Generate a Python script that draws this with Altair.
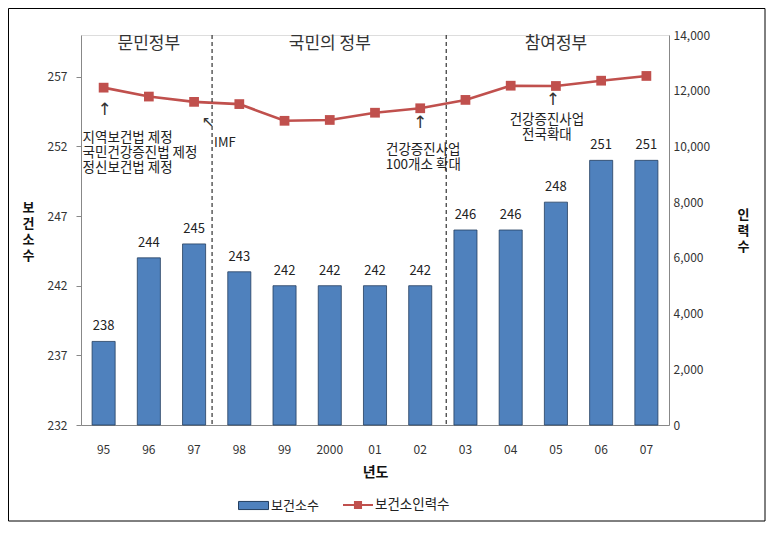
import altair as alt
import pandas as pd

years = ["95", "96", "97", "98", "99", "2000", "01", "02", "03", "04", "05", "06", "07"]
centers = [238, 244, 245, 243, 242, 242, 242, 242, 246, 246, 248, 251, 251]
staff = [12110, 11790, 11600, 11520, 10920, 10950, 11210, 11370, 11670, 12180, 12170, 12360, 12530]

periods = ["문민정부", "국민의 정부", "참여정부"]
period_years = ["96", "2000", "05"]
divider_years = ["97", "02"]

ann_years = ["95", "97", "02", "05"]
ann_texts = ["지역보건법 제정\n국민건강증진법 제정\n정신보건법 제정", "IMF",
             "건강증진사업\n100개소 확대", "건강증진사업\n전국확대"]
ann_arrows = ["↑", "↖", "↑", "↑"]

left_ticks = [232, 237, 242, 247, 252, 257]
right_ticks = [0, 2000, 4000, 6000, 8000, 10000, 12000, 14000]

S1 = "보건소수"
S2 = "보건소인력수"

FONT = "Noto Sans CJK KR"
ARROW_FONT = "DejaVu Sans"
W, H = 588, 390
BLUE = "#4F81BD"
RED = "#C0504D"

df = pd.DataFrame({"year": years, "centers": centers, "staff": staff, "s1": S1, "s2": S2})

xscale = alt.Scale(paddingInner=0.49, paddingOuter=0.245)
x_main = alt.X("year:N", sort=years, scale=xscale,
               axis=alt.Axis(title="년도", labelAngle=0, ticks=False, domainColor="#888",
                             labelPadding=19, titlePadding=10, labelFontSize=12,
                             labelColor="#333", titleFontSize=14, titleFontWeight="bold",
                             titleColor="#111"))
x_plain = alt.X("year:N", sort=years, scale=xscale)

y_left = alt.Y("centers:Q",
               scale=alt.Scale(domain=[232, 260], nice=False, zero=False),
               axis=alt.Axis(values=left_ticks, title=["보", "건", "소", "수"], titleAngle=0,
                             titleAlign="center", titleBaseline="middle", titleFontSize=13,
                             titleFontWeight="bold", titleColor="#111",
                             titleX=-53, titleY=H / 2 - 23,
                             titleLineHeight=16, grid=False, tickSize=5, tickColor="#888",
                             domainColor="#888", labelPadding=9, labelFontSize=12,
                             labelColor="#333"))
y_right = alt.Y("staff:Q",
                scale=alt.Scale(domain=[0, 14000], nice=False),
                axis=alt.Axis(orient="right", values=right_ticks, format=",d",
                              title=["인", "력", "수"], titleAngle=0, titleAlign="center",
                              titleBaseline="middle", titleFontSize=13, titleFontWeight="bold",
                              titleColor="#111", titleX=74, titleY=H / 2 - 16,
                              titleLineHeight=16,
                              grid=False, ticks=False, domainColor="#888", labelPadding=4,
                              labelFontSize=12, labelColor="#333"))

base = alt.Chart(df)

bars = base.mark_bar(stroke="#243f60", strokeWidth=0.8).encode(
    x=x_main,
    y=y_left,
    y2=alt.datum(232),
    fill=alt.Fill("s1:N", scale=alt.Scale(domain=[S1], range=[BLUE]),
                  legend=alt.Legend(title=None, orient="none", legendX=157, legendY=455,
                                    symbolType="M-1,-0.27H1V0.27H-1Z", symbolSize=900,
                                    symbolStrokeColor="#243f60", symbolStrokeWidth=1,
                                    labelFontSize=13, labelColor="#222", labelOffset=2)),
)
bar_labels = base.mark_text(dy=-15, fontSize=13, color="#222", baseline="middle").encode(
    x=x_plain, y=alt.Y("centers:Q"), text=alt.Text("centers:Q"))
left_group = alt.layer(bars, bar_labels)

line = base.mark_line(color=RED, strokeWidth=2.6).encode(x=x_plain, y=y_right)
points = base.mark_square(size=95, opacity=1, filled=True).encode(
    x=x_plain, y=y_right,
    color=alt.Color("s2:N", scale=alt.Scale(domain=[S2], range=[RED]),
                    legend=alt.Legend(title=None, orient="none", legendX=262, legendY=455,
                                      symbolType="M-1,-0.07H1V0.07H-1Z M-0.27,-0.27H0.27V0.27H-0.27Z",
                                      symbolSize=900, symbolStrokeWidth=0,
                                      labelFontSize=13.5, labelColor="#222", labelOffset=2)),
)
right_group = alt.layer(line, points)

div_df = pd.DataFrame({"year": divider_years})
rule1 = alt.Chart(div_df[div_df.year == "97"]).mark_rule(
    strokeDash=[4, 3], color="#333", strokeWidth=1.2, xOffset=18).encode(
    x=x_plain, y=alt.value(0), y2=alt.value(H))
rule2 = alt.Chart(div_df[div_df.year == "02"]).mark_rule(
    strokeDash=[4, 3], color="#333", strokeWidth=1.2, xOffset=26).encode(
    x=x_plain, y=alt.value(0), y2=alt.value(H))

period_df = pd.DataFrame({"year": period_years, "label": periods})
period_text = alt.Chart(period_df).mark_text(fontSize=17, color="#333", baseline="middle").encode(
    x=x_plain, y=alt.value(9), text="label:N")

ann_df = pd.DataFrame({"year": ann_years, "text": ann_texts, "arrow": ann_arrows})


def ann(i):
    return alt.Chart(ann_df.iloc[[i]])


arrow95 = ann(0).mark_text(font=ARROW_FONT, fontSize=17, color="#333", baseline="middle", dx=1).encode(
    x=x_plain, y=alt.value(75), text="arrow:N")
text95 = ann(0).mark_text(fontSize=13.5, color="#222", baseline="middle", align="left",
                          lineBreak="\n", lineHeight=15, dx=-21).encode(
    x=x_plain, y=alt.value(103), text="text:N")
arrow97 = ann(1).mark_text(font=ARROW_FONT, fontSize=15, color="#333", baseline="middle", dx=14).encode(
    x=x_plain, y=alt.value(87), text="arrow:N")
text97 = ann(1).mark_text(fontSize=13, color="#222", baseline="middle", align="left", dx=20).encode(
    x=x_plain, y=alt.value(108), text="text:N")
arrow02 = ann(2).mark_text(font=ARROW_FONT, fontSize=17, color="#333", baseline="middle", dx=0).encode(
    x=x_plain, y=alt.value(88), text="arrow:N")
text02 = ann(2).mark_text(fontSize=13.5, color="#222", baseline="middle", lineBreak="\n",
                          lineHeight=15, dx=3).encode(
    x=x_plain, y=alt.value(114.5), text="text:N")
arrow05 = ann(3).mark_text(font=ARROW_FONT, fontSize=17, color="#333", baseline="middle", dx=-3).encode(
    x=x_plain, y=alt.value(65), text="arrow:N")
text05 = ann(3).mark_text(fontSize=13.5, color="#222", baseline="middle", lineBreak="\n",
                          lineHeight=15, dx=-9).encode(
    x=x_plain, y=alt.value(85), text="text:N")

frame = alt.Chart(pd.DataFrame({"k": [0]})).mark_rect(
    fill="transparent", stroke="#000", strokeWidth=1).encode(
    x=alt.value(-72.5), x2=alt.value(684), y=alt.value(-26.5), y2=alt.value(486))

chart = alt.layer(
    frame, left_group, right_group, rule1, rule2, period_text,
    arrow95, text95, arrow97, text97, arrow02, text02, arrow05, text05
).resolve_scale(y="independent").properties(
    width=W, height=H,
    padding={"left": 0, "top": 0, "right": 0, "bottom": 0},
).configure_view(stroke=None).configure(font=FONT)

chart.save("out.html", embed_options={"renderer": "svg", "actions": False})
